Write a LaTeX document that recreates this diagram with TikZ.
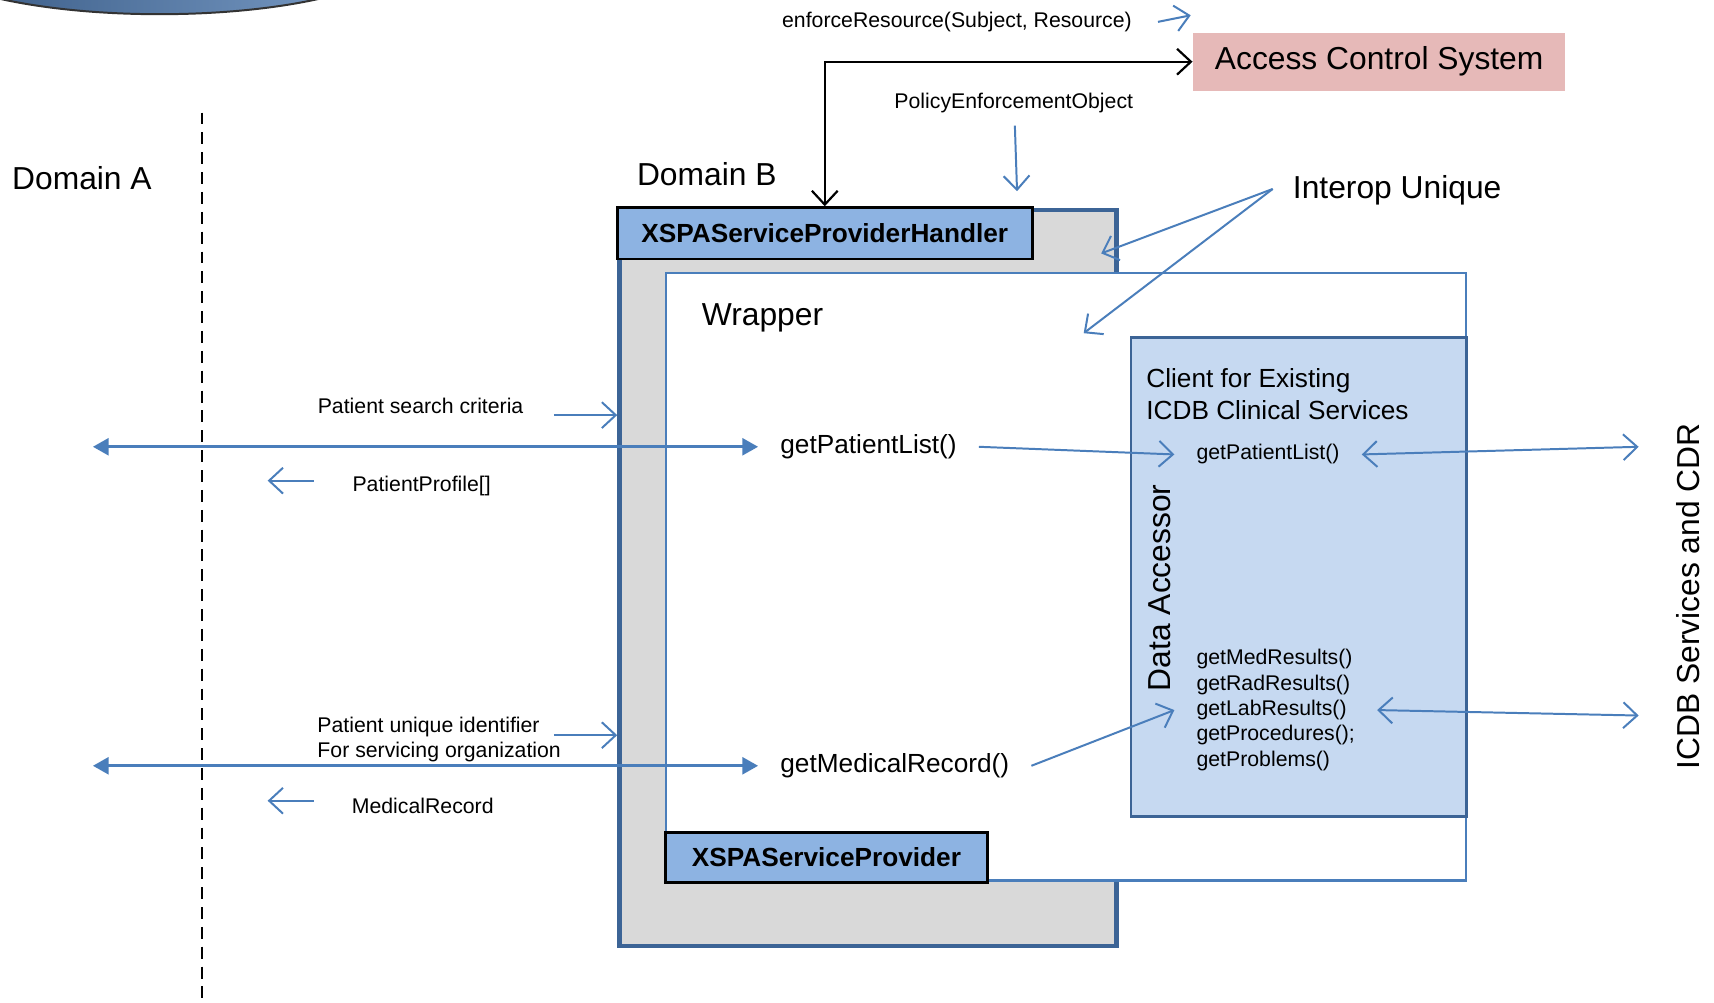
\documentclass[tikz,border=0pt]{standalone}
\usepackage{fontspec}
\setmainfont{Liberation Sans}
\usepackage{xcolor}
\usepackage{tikz}
\usetikzlibrary{shapes,arrows.meta}
\def\upx{0.55pt}
\definecolor{lineblue}{HTML}{4A7EBB}
\definecolor{frameblue}{HTML}{3C6496}
\definecolor{boxblue}{HTML}{8DB3E2}
\definecolor{paleblue}{HTML}{C6D9F1}
\definecolor{panelgray}{HTML}{D9D9D9}
\definecolor{acspink}{HTML}{E6B9B8}

\begin{document}
\begin{tikzpicture}[x=\upx,y=-\upx,>={Straight Barb[length=7pt,width=13pt]}]
    \tikzstyle{big}=[font=\fontsize{16}{19}\selectfont]
    \tikzstyle{mid}=[font=\fontsize{13.2}{16}\selectfont]
    \tikzstyle{small}=[font=\fontsize{10.7}{13}\selectfont]
    \tikzstyle{call}=[mid, inner xsep=11pt, anchor=west]
    \tikzstyle{method}=[small, inner xsep=11pt, anchor=west, align=left]
    \tikzstyle{panel}=[rectangle, inner sep=0pt, anchor=north west]
    \tikzstyle{class box}=[rectangle, draw=black, fill=boxblue, line width=1.3pt,
        inner sep=0pt, font=\fontsize{13.2}{16}\selectfont\bfseries]
    \tikzstyle{flow}=[draw=lineblue, line width=1pt]
    \tikzstyle{request}=[draw=lineblue, line width=1.6pt,
        {Triangle[length=8pt,width=8.5pt]}-{Triangle[length=8pt,width=8.5pt]}]
    \tikzstyle{border}=[black, dashed, line width=1.1pt, dash pattern=on 6pt off 4pt]

    \useasboundingbox (0,0) rectangle (1569,917.3);

    % Draw the cut off database at the top
    \begin{scope}
        \clip (0,0) rectangle (1569,917.3);
        \shade[left color=frameblue!85!black, right color=boxblue!90!black,
            draw=black!80, line width=1pt] (146,-47) ellipse [x radius=227, y radius=60];
    \end{scope}

    % Draw the domain border
    \coordinate (divTop) at (185,103);
    \coordinate (divBot) at (185,915);
    \draw[border] (divTop) -- (divBot);
    \node[big] (domA) at (75,163) {Domain A};
    \node[big] (domBtitle) at (647,159) {Domain B};

    % Draw the nested boxes of domain B
    \node[panel, draw=frameblue, fill=panelgray, line width=2.2pt,
        minimum width=455*\upx, minimum height=674*\upx] (domB) at (565,190) {};
    \node[panel, draw=lineblue, fill=white, line width=1.1pt,
        minimum width=732*\upx, minimum height=556*\upx] (wrap) at (609,249) {};
    \node[panel, draw=frameblue, fill=paleblue, line width=1.4pt,
        minimum width=307*\upx, minimum height=438*\upx] (client) at (1034,308) {};
    \node[class box, minimum width=380*\upx, minimum height=47*\upx] (handler) at (755,213.5) {XSPAServiceProviderHandler};
    \node[class box, minimum width=295*\upx, minimum height=46*\upx] (provider) at (756.5,785) {XSPAServiceProvider};
    \node[big] (wraptitle) at (698,291) {Wrapper};
    \node[mid, anchor=west, align=left] (clienttitle) at (1043,361) {Client for Existing\\ICDB Clinical Services};
    \node[big, rotate=90] (accessor) at (1062,538) {Data Accessor};

    % Draw the access control system
    \node[rectangle, fill=acspink, big, minimum width=341*\upx, minimum height=53*\upx] (acs) at (1262.5,56.5) {Access Control System};
    \node[small] (enforce) at (876,20) {enforceResource(Subject, Resource)};
    \node[small] (policy) at (928,94) {PolicyEnforcementObject};
    \draw[black, line width=1.1pt, <->] (handler.north) |- (acs.west);
    \coordinate (enfA) at (1060,20);
    \coordinate (enfB) at (1090,14);
    \draw[flow, ->] (enfA) -- (enfB);
    \coordinate (polA) at (929,115);
    \coordinate (polB) at (931,175);
    \draw[flow, ->] (polA) -- (polB);

    % Interop unique pointers
    \node[big] (interop) at (1279,174) {Interop Unique};
    \coordinate (iu) at (1165,173);
    \coordinate (iuA) at (1008,232);
    \coordinate (iuB) at (992,305);
    \foreach \dest in {iuA,iuB}
        \draw[flow, ->] (iu) -- (\dest);

    % Calls from domain A
    \node[small] (search) at (385,372) {Patient search criteria};
    \node[small] (profile) at (386,445) {PatientProfile[]};
    \node[small, align=left] (uid) at (402,677) {Patient unique identifier\\For servicing organization};
    \node[small] (medrec) at (387,738) {MedicalRecord};
    \node[call] (getPL) at (694,409) {getPatientList()};
    \node[call] (getMR) at (694,701) {getMedicalRecord()};
    \foreach \name / \y / \z in {PL/409/380, MR/701/673} {
        \coordinate (req-\name) at (85,\y);
        \draw[request] (req-\name) -- (get\name.west);
        \coordinate (in-\name) at (507,\z);
        \draw[flow, ->] (in-\name) -- (in-\name -| domB.west);
        \coordinate (back-\name) at (287,\z+60);
        \draw[flow, ->] (back-\name) -- ++(-42,0);
    }

    % Methods of the client
    \node[method] (cPL) at (1075,416) {getPatientList()};
    \node[method, font=\fontsize{10.7}{12.8}\selectfont] (methods) at (1075,650) {getMedResults()\\getRadResults()\\getLabResults()\\getProcedures();\\getProblems()};
    \node[big, rotate=90] (icdb) at (1545,546) {ICDB Services and CDR};
    \coordinate (out-PL) at (1500,409);
    \coordinate (out-MR) at (1500,655);
    \draw[flow, ->] (getPL.east) -- (cPL.west);
    \draw[flow, ->] (getMR.east) -- (methods.west);
    \draw[flow, <->] (cPL.east) -- (out-PL);
    \draw[flow, <->] (methods.east) -- (out-MR);

\end{tikzpicture}
\end{document}
